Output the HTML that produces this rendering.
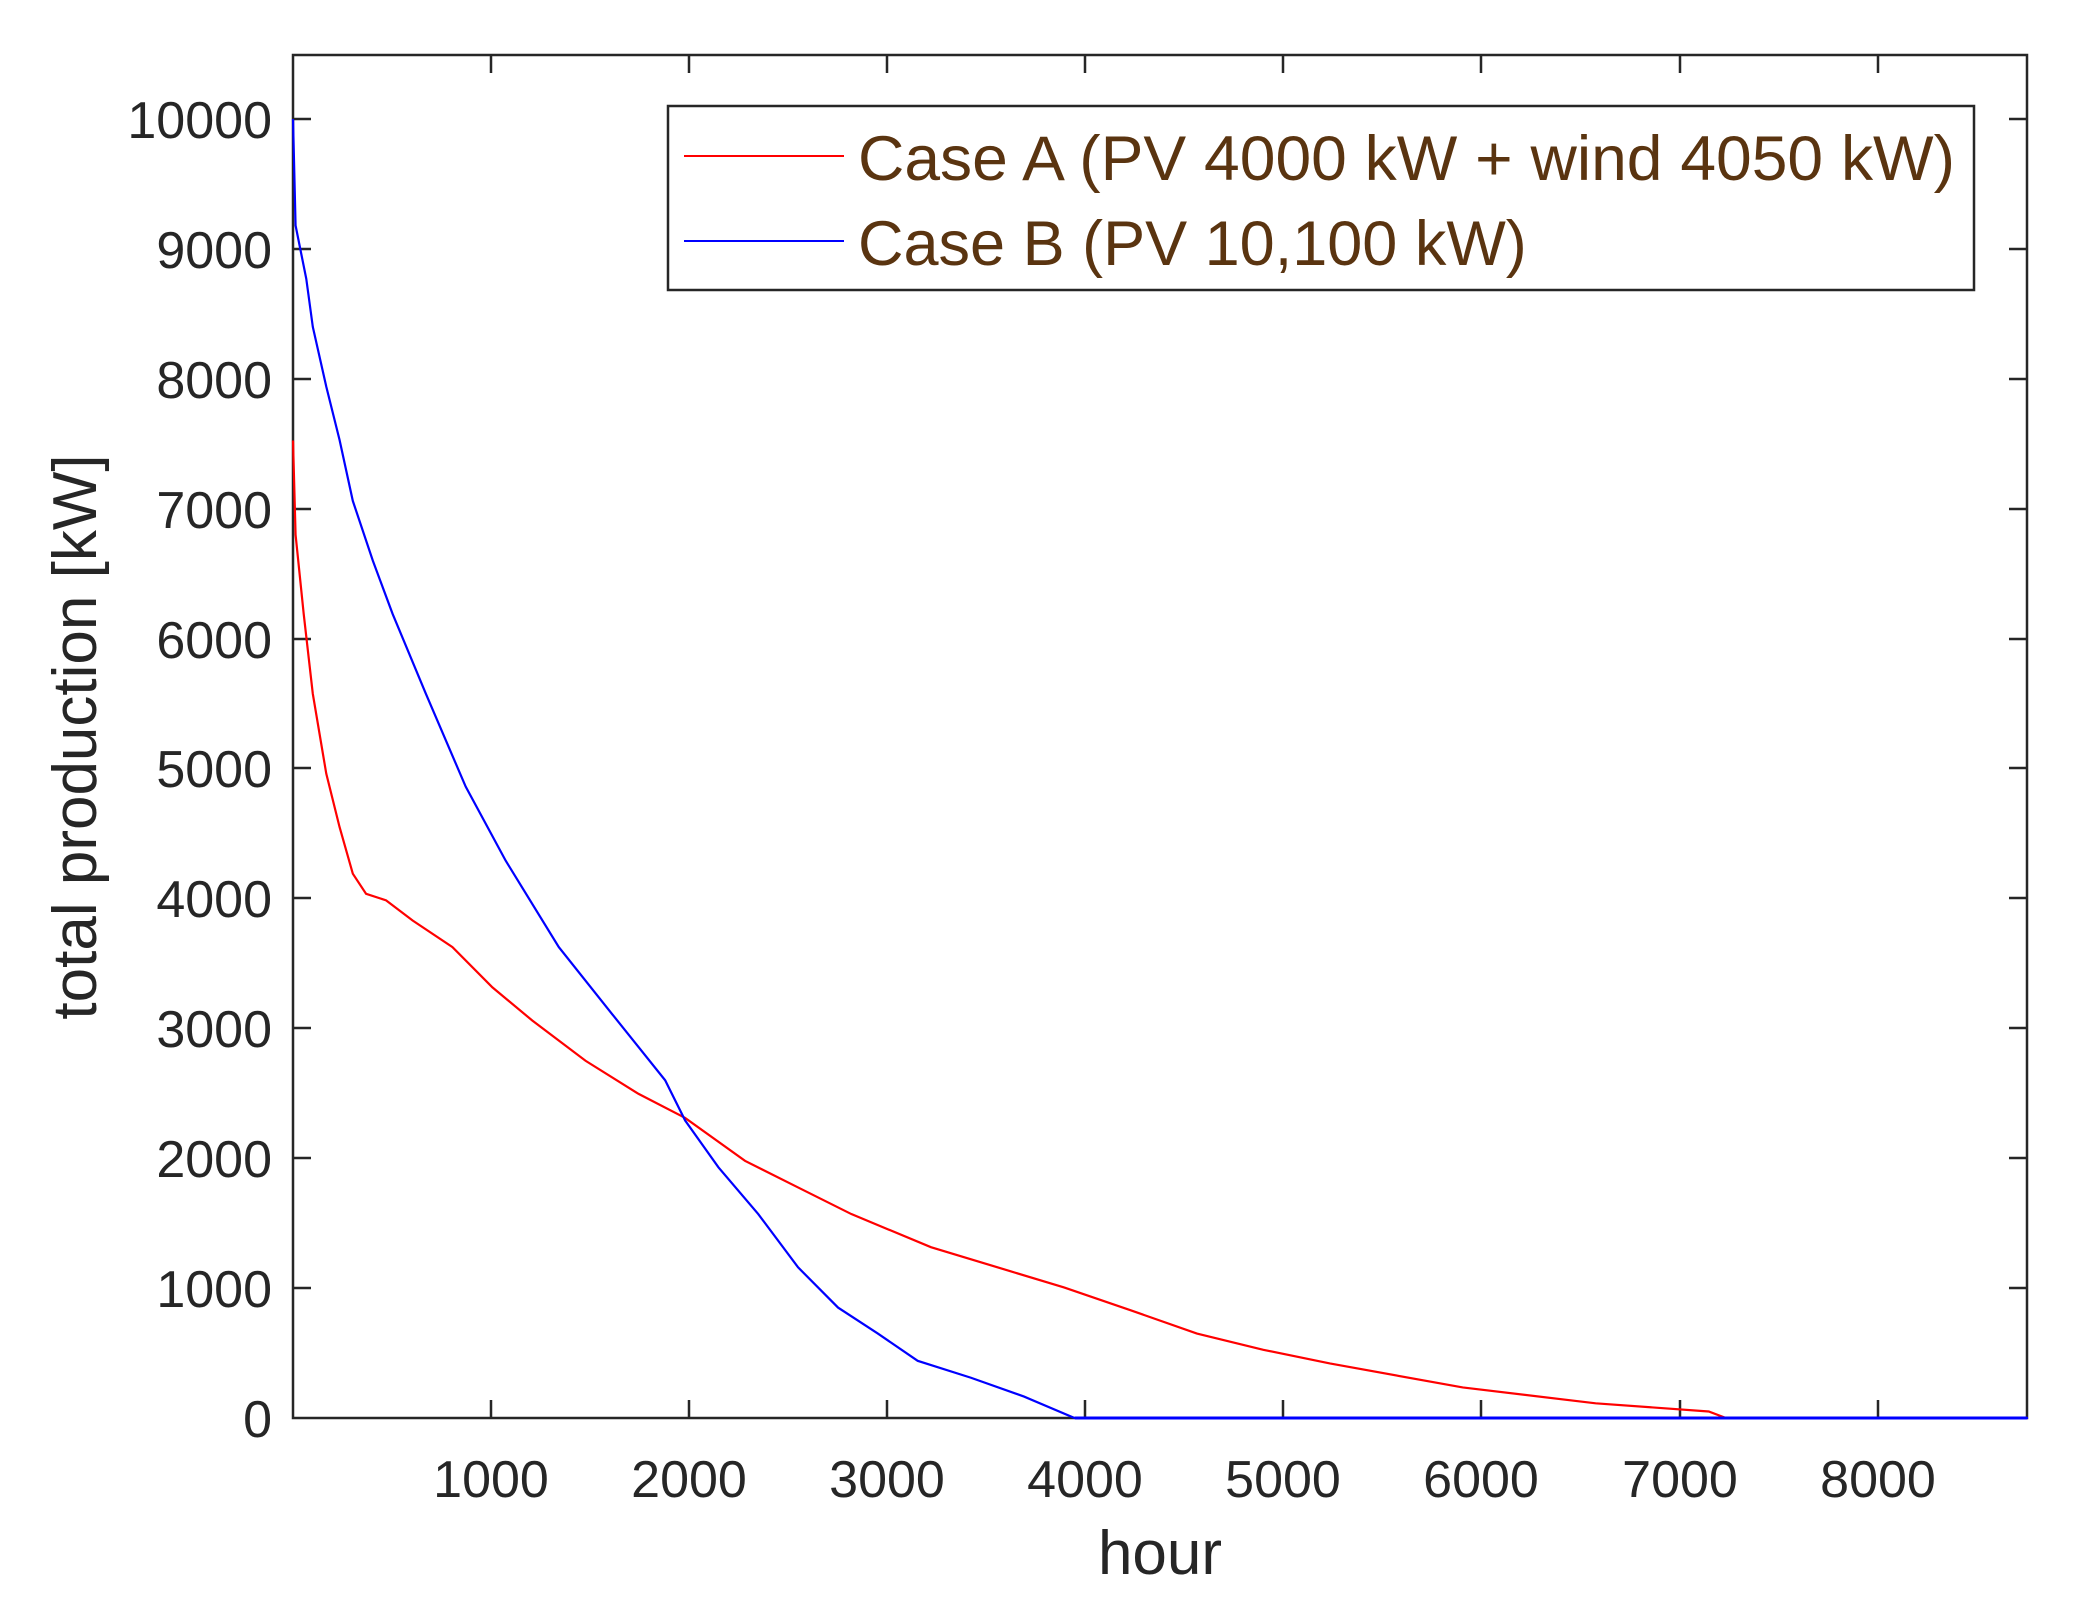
<!DOCTYPE html>
<html><head><meta charset="utf-8"><style>
html,body{margin:0;padding:0;background:#fff;}
svg{display:block;font-family:"Liberation Sans",Arial,sans-serif;}
</style></head><body>
<svg width="2091" height="1618" viewBox="0 0 2091 1618" xmlns="http://www.w3.org/2000/svg">
<rect width="2091" height="1618" fill="#fff"/>
<g stroke="#262626" stroke-width="2.5" fill="none">
<rect x="293" y="55" width="1734" height="1363"/>
<path d="M491,1418v-18M689,1418v-18M887,1418v-18M1085,1418v-18M1283,1418v-18M1481,1418v-18M1680,1418v-18M1878,1418v-18
M491,55v18M689,55v18M887,55v18M1085,55v18M1283,55v18M1481,55v18M1680,55v18M1878,55v18
M293,1288h18M293,1158h18M293,1028h18M293,898h18M293,768h18M293,639h18M293,509h18M293,379h18M293,249h18M293,119h18
M2027,1288h-18M2027,1158h-18M2027,1028h-18M2027,898h-18M2027,768h-18M2027,639h-18M2027,509h-18M2027,379h-18M2027,249h-18M2027,119h-18"/>
</g>
<g transform="translate(293,1418) scale(0.19806,-0.12990)" fill="none">
<polyline vector-effect="non-scaling-stroke" stroke="#ff0000" stroke-width="2.2" points="0,7525 13,6800 54,6190 100,5575 168,4960 235,4550 302,4190 369,4035 470,3985 604,3830 805,3625 1007,3315 1208,3060 1477,2750 1745,2495 1980,2310 2282,1980 2550,1775 2819,1570 3221,1315 3557,1160 3893,1005 4228,830 4564,650 4899,525 5235,420 5906,235 6577,113 7148,50 7235,0 8760,0"/>
<polyline vector-effect="non-scaling-stroke" stroke="#0000ff" stroke-width="2.2" points="0,10000 13,9180 67,8770 100,8400 168,7940 235,7530 302,7060 403,6600 503,6190 671,5575 872,4860 1074,4290 1342,3625 1611,3110 1879,2600 1980,2290 2148,1930 2349,1570 2550,1160 2752,850 2953,650 3154,440 3423,310 3691,165 3946,0 8760,0"/>
</g>
<line x1="1075" y1="1418" x2="2027" y2="1418" stroke="#0000ff" stroke-width="3"/>
<g font-size="52" fill="#262626" text-anchor="end">
<text x="272" y="1437">0</text><text x="272" y="1307">1000</text><text x="272" y="1177">2000</text><text x="272" y="1047">3000</text><text x="272" y="917">4000</text><text x="272" y="787">5000</text><text x="272" y="658">6000</text><text x="272" y="528">7000</text><text x="272" y="398">8000</text><text x="272" y="268">9000</text><text x="272" y="138">10000</text>
</g>
<g font-size="52" fill="#262626" text-anchor="middle">
<text x="491" y="1497">1000</text><text x="689" y="1497">2000</text><text x="887" y="1497">3000</text><text x="1085" y="1497">4000</text><text x="1283" y="1497">5000</text><text x="1481" y="1497">6000</text><text x="1680" y="1497">7000</text><text x="1878" y="1497">8000</text>
</g>
<text x="1160" y="1574" font-size="62" fill="#262626" text-anchor="middle">hour</text>
<text transform="translate(96,737) rotate(-90)" font-size="62" fill="#262626" text-anchor="middle">total production [kW]</text>
<rect x="668" y="106" width="1306" height="184" fill="#fff" stroke="#262626" stroke-width="2.5"/>
<line x1="684" y1="156" x2="844" y2="156" stroke="#ff0000" stroke-width="2"/>
<line x1="684" y1="241" x2="844" y2="241" stroke="#0000ff" stroke-width="2"/>
<g font-size="63" fill="#5a3410">
<text x="858" y="180" textLength="1097" lengthAdjust="spacingAndGlyphs">Case A (PV 4000 kW + wind 4050 kW)</text>
<text x="858" y="265">Case B (PV 10,100 kW)</text>
</g>
</svg>
</body></html>
